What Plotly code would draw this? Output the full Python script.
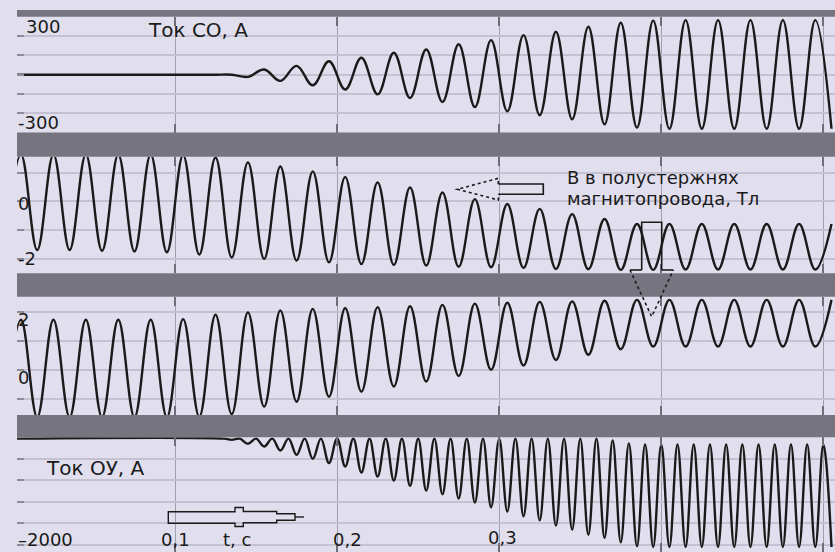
import plotly.graph_objects as go

W, H = 835, 552

# ---- data ----
# half-period sampling grid (s) for the three upper traces
t_half = [round(-0.005 + 0.01 * k, 3) for k in range(52)]

# Ток СО, А  (extremes at each half period)
i_co = [0, 0, 0, 0, 0, 0, 0, 0, 0, 0, 0, 0, 0, 0, 0,
        -11, 27, -32, 46, -55, 70, -77, 88, -102, 114, -121, 131, -142, 158,
        -168, 180, -190, 206, -211, 223, -232, 249, -258, 270, -275, 281,
        -281, 284, -281, 284, -281, 284, -281, 284, -281, 284, -281]

# B in half-core 1, T
b_1 = [-1.68, 1.62, -1.68, 1.62, -1.68, 1.62, -1.71, 1.62, -1.73, 1.62,
       -1.76, 1.60, -1.84, 1.52, -1.94, 1.35, -1.99, 1.21, -2.05, 1.04,
       -2.11, 0.85, -2.17, 0.66, -2.20, 0.48, -2.22, 0.31, -2.26, 0.08,
       -2.28, -0.09, -2.30, -0.26, -2.34, -0.44, -2.35, -0.61, -2.37, -0.78,
       -2.37, -0.78, -2.36, -0.78, -2.36, -0.78, -2.36, -0.78, -2.36, -0.78,
       -2.36, -0.78]

# B in half-core 2, T
b_2 = [-1.62, 1.72, -1.62, 1.72, -1.62, 1.72, -1.62, 1.72, -1.62, 1.72,
       -1.62, 1.74, -1.60, 1.89, -1.52, 1.97, -1.26, 2.04, -1.09, 2.09,
       -0.92, 2.12, -0.75, 2.15, -0.57, 2.18, -0.40, 2.23, -0.21, 2.27,
       0.00, 2.30, 0.15, 2.33, 0.34, 2.35, 0.52, 2.37, 0.71, 2.40,
       0.80, 2.40, 0.80, 2.40, 0.80, 2.40, 0.80, 2.40, 0.80, 2.40,
       0.80, 2.40]

# Ток ОУ, А  (double-frequency pulses)
t_ou_trough = [round(0.135 + 0.01 * k, 3) for k in range(38)]
i_ou_trough = [-47, -121, -171, -246, -326, -400, -480, -543, -655, -729,
               -804, -902, -990, -1060, -1140, -1215, -1300, -1380, -1470,
               -1544, -1642, -1716, -1809, -1870, -1953, -2027,
               -2040, -2040, -2040, -2040, -2040, -2040, -2040, -2040,
               -2040, -2040, -2040, -2040]
t_ou_peak = [round(0.14 + 0.01 * k, 3) for k in range(37)]
i_ou_peak = [-25] * 23 + [-60, -115] + [-135] * 12
t_ou_start = [0.0, 0.13]
i_ou_start = [-25, -25]

t_ou = list(t_ou_start)
i_ou = list(i_ou_start)
for k in range(38):
    t_ou.append(t_ou_trough[k]); i_ou.append(i_ou_trough[k])
    if k < 37:
        t_ou.append(t_ou_peak[k]); i_ou.append(i_ou_peak[k])

x_ticks = [0.1, 0.2, 0.3, 0.4, 0.5]

# ---- style ----
BG = '#e1dfee'
BAND = '#75747f'
GRID = '#c4c2d2'
VGRID = '#a09eab'
INK = '#1a1a1a'
FONT = 'DejaVu Sans'


def px(p):
    return p / W


def py(p):
    return 1 - p / H


x_range = [0.00253, 0.50716]
x_dom = [px(17), 1]

panels = [
    (17.0, 132.5, [-300.5, 300], [-200, -100, 0, 100, 200], i_co, t_half),
    (156.7, 273.3, [-2.488, 1.547], [-2, -1, 0, 1], b_1, t_half),
    (296.7, 415.0, [-1.546, 2.509], [-1, 0, 1, 2], b_2, t_half),
    (437.3, 552.0, [-2133, 0], [-400, -800, -1200, -1600, -2000], i_ou, t_ou),
]

fig = go.Figure()
layout = dict(width=W, height=H, margin=dict(l=0, r=0, t=0, b=0),
              paper_bgcolor=BG, plot_bgcolor=BG, showlegend=False)

for n, (top, bot, yr, gv, yv, xv) in enumerate(panels, start=1):
    sx = '' if n == 1 else str(n)
    fig.add_trace(go.Scatter(x=xv, y=yv, mode='lines',
                             line=dict(color=INK, width=2.4, shape='spline', smoothing=1.1),
                             xaxis='x' + sx, yaxis='y' + sx, hoverinfo='skip'))
    layout['xaxis' + sx] = dict(domain=x_dom, range=x_range, anchor='y' + sx,
                                tickvals=x_ticks, showgrid=True, gridcolor=VGRID,
                                gridwidth=1, ticks='inside', ticklen=9, tickwidth=1.5,
                                tickcolor='#6e6d78', mirror='ticks', showline=False,
                                showticklabels=False, zeroline=False, fixedrange=True)
    layout['yaxis' + sx] = dict(domain=[py(bot), py(top)], range=yr, anchor='x' + sx,
                                tickvals=gv, showgrid=True, gridcolor=GRID, gridwidth=1.5,
                                ticks='inside', ticklen=7, tickwidth=2, tickcolor='#8d8c98',
                                showticklabels=False, zeroline=False, showline=False,
                                fixedrange=True)

fig.update_layout(**layout)

# separator bands
for (a, b) in [(10, 16.7), (132.5, 156.7), (273.3, 296.7), (415, 437.3)]:
    fig.add_shape(type='rect', xref='paper', yref='paper', x0=px(17), x1=1,
                  y0=py(b), y1=py(a), fillcolor=BAND, line=dict(width=0), layer='above')


def path(pts, close=False):
    s = 'M ' + ' L '.join(f'{px(x):.5f},{py(y):.5f}' for x, y in pts)
    return s + (' Z' if close else '')


def add_path(pts, close=False, dash='solid', width=1.6):
    fig.add_shape(type='path', xref='paper', yref='paper', path=path(pts, close),
                  line=dict(color=INK, width=width, dash=dash), layer='above')


# left arrow (panel 2)
add_path([(498.3, 184), (543.3, 184), (543.3, 194.3), (498.3, 194.3)])
add_path([(498.3, 184), (498.3, 178.3), (457.3, 189.3), (498.3, 200), (498.3, 194.3)], dash='dot')
# down arrow (panel 2 -> 3)
add_path([(641.7, 270), (641.7, 222.3), (661.7, 222.3), (661.7, 270)])
add_path([(641.7, 270), (630, 270)])
add_path([(661.7, 270), (673.3, 270)])
add_path([(630, 270), (651.7, 316.7), (673.3, 270)], dash='dot')
# right arrow (panel 4)
add_path([(168.3, 511.7), (235, 511.7), (235, 507.5), (243.3, 507.5), (243.3, 511.5),
          (276.7, 511.5), (276.7, 513.8), (295, 513.8), (295, 520.2), (276.7, 520.2),
          (276.7, 522.8), (243.3, 522.8), (243.3, 526.5), (235, 526.5), (235, 523.2),
          (168.3, 523.2)], close=True, width=1.4)
add_path([(295, 517), (304, 517)], width=1.4)


# texts
def text(s, x, y, size=18):
    fig.add_annotation(text=s, x=px(x), y=py(y), xref='paper', yref='paper',
                       xanchor='left', yanchor='middle', showarrow=False,
                       font=dict(family=FONT, size=size, color=INK))


text('Ток СО, А', 146, 30, 20)
text('300', 24, 27)
text('-300', 16, 122.5)
text('0', 16, 203.5)
text('-2', 16, 258.5)
text('2', 16, 319.5)
text('0', 16, 377.5)
text('Ток ОУ, А', 44, 468, 20)
text('–2000', 16, 539)
text('0,1', 159, 539)
text('t, с', 221, 539)
text('0,2', 331, 539)
text('0,3', 486, 537)
text('В в полустержнях', 565, 177.5)
text('магнитопровода, Тл', 565, 198)

fig.write_html('out.html', config={'displayModeBar': False},
               post_script="document.body.style.margin='0px';")
